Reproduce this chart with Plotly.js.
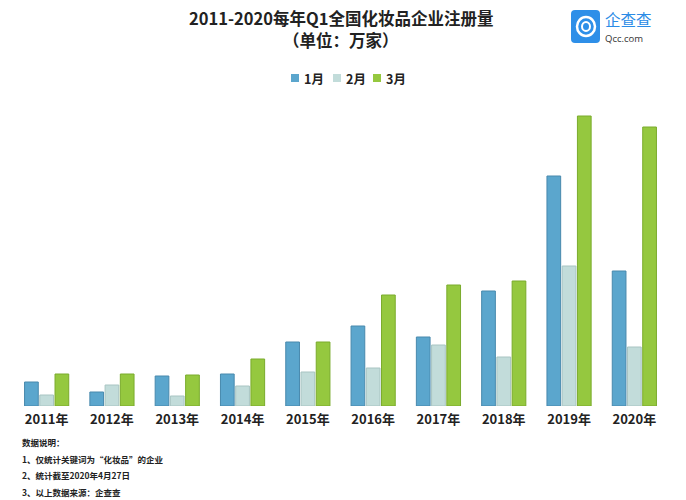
<!DOCTYPE html>
<html>
<head>
<meta charset="utf-8">
<script src="https://cdn.plot.ly/plotly-3.0.1.min.js"></script>
<style>
  html, body { margin: 0; padding: 0; background: #fff; }
  #chart { width: 686px; height: 500px; }
</style>
</head>
<body>
<div id="chart"></div>
<script>
// Q1 cosmetics company registrations, 2011-2020 (万家)
const years = ["2011年", "2012年", "2013年", "2014年", "2015年", "2016年", "2017年", "2018年", "2019年", "2020年"];
const jan = [0.24, 0.14, 0.30, 0.32, 0.64, 0.80, 0.69, 1.15, 2.30, 1.35];
const feb = [0.11, 0.21, 0.10, 0.20, 0.34, 0.38, 0.61, 0.49, 1.40, 0.59];
const mar = [0.32, 0.32, 0.31, 0.47, 0.64, 1.11, 1.21, 1.25, 2.90, 2.79];

const seriesNames = ["1月", "2月", "3月"];
const fills = ["#5BA6CD", "#C2DCDA", "#95C83F"];
const edges = ["#4889AD", "#A8C4C2", "#7AAB2C"];

const notes = [
  "数据说明：",
  "1、仅统计关键词为“化妆品”的企业",
  "2、统计截至2020年4月27日",
  "3、以上数据来源：企查查"
];

const FONT = "'Noto Sans CJK SC', 'Open Sans', sans-serif";

const traces = [jan, feb, mar].map((values, i) => ({
  type: "bar",
  name: seriesNames[i],
  x: years,
  y: values,
  marker: { color: fills[i], line: { color: edges[i], width: 1 } },
  hoverinfo: "skip"
}));

const annotations = [
  {
    text: "<b>2011-2020每年Q1全国化妆品企业注册量</b>",
    xref: "paper", yref: "paper", x: 0.5, y: 1, yshift: 82,
    xanchor: "center", yanchor: "middle", showarrow: false,
    font: { family: FONT, size: 16.5, color: "#222" }
  },
  {
    text: "<b>（单位：万家）</b>",
    xref: "paper", yref: "paper", x: 0.5, y: 1, yshift: 60,
    xanchor: "center", yanchor: "middle", showarrow: false,
    font: { family: FONT, size: 16.5, color: "#222" }
  },
  // Qcc logo text
  {
    text: "企查查",
    xref: "paper", yref: "paper", x: 1, xshift: -64, y: 1, yshift: 81,
    xanchor: "left", yanchor: "middle", showarrow: false,
    font: { family: FONT, size: 15.5, color: "#2B8BE6" }
  },
  {
    text: "Qcc.com",
    xref: "paper", yref: "paper", x: 1, xshift: -64, y: 1, yshift: 62,
    xanchor: "left", yanchor: "middle", showarrow: false,
    font: { family: "Open Sans, sans-serif", size: 9.5, color: "#333" }
  }
];

const shapes = [
  // Qcc logo icon
  {
    type: "path", xref: "paper", yref: "paper",
    xsizemode: "pixel", ysizemode: "pixel", xanchor: 1, yanchor: 1,
    path: "M -92 90 L -71 90 Q -67 90 -67 86 L -67 61 Q -67 57 -71 57 L -92 57 Q -96 57 -96 61 L -96 86 Q -96 90 -92 90 Z",
    fillcolor: "#2E8FE8", line: { width: 0 }
  },
  {
    type: "circle", xref: "paper", yref: "paper",
    xsizemode: "pixel", ysizemode: "pixel", xanchor: 1, yanchor: 1,
    x0: -90, x1: -72, y0: 64, y1: 83,
    fillcolor: "rgba(0,0,0,0)", line: { color: "#fff", width: 2.5 }
  },
  {
    type: "circle", xref: "paper", yref: "paper",
    xsizemode: "pixel", ysizemode: "pixel", xanchor: 1, yanchor: 1,
    x0: -85, x1: -77, y0: 69, y1: 78,
    fillcolor: "rgba(0,0,0,0)", line: { color: "#fff", width: 2 }
  }
];

// compact legend drawn by hand, like the reference
const legendX = [295, 337, 377];
seriesNames.forEach((name, i) => {
  shapes.push({
    type: "rect", xref: "paper", yref: "paper",
    xsizemode: "pixel", ysizemode: "pixel", xanchor: 0, yanchor: 1,
    x0: legendX[i] - 14 - 4, x1: legendX[i] - 14 + 4, y0: 18, y1: 26,
    fillcolor: fills[i], line: { width: 0 }
  });
  annotations.push({
    text: "<b>" + name + "</b>",
    xref: "paper", yref: "paper", x: 0, xshift: legendX[i] - 14 + 7, y: 1, yshift: 22,
    xanchor: "left", yanchor: "middle", showarrow: false,
    font: { family: FONT, size: 12.5, color: "#222" }
  });
});

notes.forEach((t, i) => {
  annotations.push({
    text: "<b>" + t + "</b>",
    xref: "paper", yref: "paper", x: 0, xshift: 6, y: 0,
    yshift: -36 - i * 16.5,
    xanchor: "left", yanchor: "middle", showarrow: false,
    font: { family: FONT, size: 8.5, color: "#222" }
  });
});

Plotly.newPlot("chart", traces, {
  width: 686,
  height: 500,
  barmode: "group",
  bargap: 0.3,
  bargroupgap: 0.1,
  paper_bgcolor: "#fff",
  plot_bgcolor: "#fff",
  font: { family: FONT, color: "#222" },
  margin: { l: 14, r: 19, t: 100, b: 94 },
  showlegend: false,
  xaxis: {
    type: "category",
    showgrid: false,
    showline: false,
    zeroline: false,
    ticks: "",
    ticklabelstandoff: 4,
    tickfont: { family: FONT, size: 13, color: "#222", weight: "bold" }
  },
  yaxis: {
    range: [0, 3.06],
    showgrid: false,
    zeroline: false,
    showline: false,
    showticklabels: false,
    ticks: ""
  },
  annotations: annotations,
  shapes: shapes
}, { displayModeBar: false, staticPlot: true });
</script>
</body>
</html>
